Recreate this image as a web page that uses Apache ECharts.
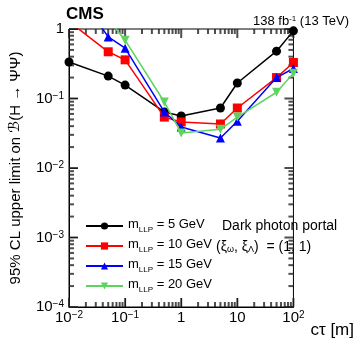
<!DOCTYPE html>
<html><head><meta charset="utf-8">
<script src="https://cdn.jsdelivr.net/npm/echarts@6/dist/echarts.min.js"></script>
<style>html,body{margin:0;padding:0;background:#fff}#c{width:357px;height:349px}</style>
</head><body><div id="c"></div>
<script>
const ctau = [0.01, 0.05, 0.1, 0.5, 1, 5, 10, 50, 100];
const m5  = [0.335, 0.21, 0.156, 0.064, 0.056, 0.073, 0.167, 0.48, 0.94];
const m10 = [1.28, 0.47, 0.36, 0.054, 0.046, 0.043, 0.073, 0.20, 0.33];
const m15 = [4.9, 0.77, 0.53, 0.064, 0.039, 0.027, 0.047, 0.20, 0.27];
const m20 = [3.0, 1.39, 0.69, 0.089, 0.032, 0.036, 0.054, 0.123, 0.23];
const seriesNames = ['m{sub|LLP} = 5 GeV', 'm{sub|LLP} = 10 GeV', 'm{sub|LLP} = 15 GeV', 'm{sub|LLP} = 20 GeV'];
const xRange = [0.01, 100];
const yRange = [1e-4, 1];

const FONT = 'Liberation Sans';
function pw(v){
  const e = Math.round(Math.log10(v));
  if (e === 0) return '{b|1}';
  if (e === 1) return '{b|10}';
  return '{b|10}{sup|' + (e < 0 ? '−' + (-e) : e) + '}';
}
const labelRich = {
  b:{fontSize:15, lineHeight:15, verticalAlign:'bottom', fontFamily:FONT, color:'#000'},
  sup:{fontSize:10, verticalAlign:'top', lineHeight:8, fontFamily:FONT, color:'#000'}
};

function minors(lo, hi){
  const out=[];
  for(let e=Math.round(Math.log10(lo)); e<Math.round(Math.log10(hi)); e++){
    for(let k=2;k<=9;k++) out.push(k*Math.pow(10,e));
  }
  return out;
}
function majors(lo, hi){
  const out=[];
  for(let e=Math.round(Math.log10(lo)); e<=Math.round(Math.log10(hi)); e++) out.push(Math.pow(10,e));
  return out;
}
const xMinor = minors(xRange[0], xRange[1]);
const yMinor = minors(yRange[0], yRange[1]);
const xMajor = majors(xRange[0], xRange[1]);
const yMajor = majors(yRange[0], yRange[1]);

function tickSeries(data, size, offset){
  return {type:'scatter', clip:false, symbol:'rect', symbolSize:size, symbolOffset:offset,
    itemStyle:{color:'#222'}, data:data};
}

const styles = [
  {color:'#000000', symbol:'circle', size:9, rot:0},
  {color:'#ff0000', symbol:'rect', size:9, rot:0},
  {color:'#0000ff', symbol:'triangle', size:9, rot:0},
  {color:'#5fd35f', symbol:'triangle', size:9, rot:180}
];
const vals = [m5, m10, m15, m20];
const lineSeries = vals.map((arr,i)=>({
  name: seriesNames[i], type:'line',
  data: ctau.map((x,j)=>[x, arr[j]]),
  symbol: styles[i].symbol, symbolSize: styles[i].size, symbolRotate: styles[i].rot,
  showSymbol:true, clip:true,
  itemStyle:{color:styles[i].color},
  lineStyle:{color:styles[i].color, width:1.5},
  z: 5 + i
}));

const T = 2;
const tickSeriesList = [
  tickSeries(xMinor.map(v=>[v, yRange[0]]), [T,5], [0,-2.5]),
  tickSeries(xMinor.map(v=>[v, yRange[1]]), [T,5], [0,2.5]),
  tickSeries(xMajor.map(v=>[v, yRange[0]]), [T,9], [0,-4.5]),
  tickSeries(xMajor.map(v=>[v, yRange[1]]), [T,9], [0,4.5]),
  tickSeries(yMinor.map(v=>[xRange[0], v]), [5,T], [2.5,0]),
  tickSeries(yMinor.map(v=>[xRange[1], v]), [5,T], [-2.5,0]),
  tickSeries(yMajor.map(v=>[xRange[0], v]), [9,T], [4.5,0]),
  tickSeries(yMajor.map(v=>[xRange[1], v]), [9,T], [-4.5,0])
];

const chart = echarts.init(document.getElementById('c'), null, {renderer:'canvas'});
chart.setOption({
  animation:false,
  backgroundColor:'#fff',
  grid:{left:68, right:9, top:29, bottom:42, show:true, borderColor:'#000', borderWidth:1, backgroundColor:'transparent'},
  title:[
    {text:'CMS', left:66, top:6, textStyle:{fontFamily:FONT, fontWeight:'bold', fontSize:17, color:'#000'}, padding:0},
    {text:'{b|138 fb}{sup|-1}{b| (13 TeV)}', right:8, top:15, padding:0,
     textStyle:{fontFamily:FONT, fontSize:13, fontWeight:'normal', color:'#000',
       rich:{b:{fontSize:13, lineHeight:13, verticalAlign:'bottom', fontFamily:FONT, color:'#000'},
             sup:{fontSize:8, verticalAlign:'top', lineHeight:7, fontFamily:FONT, color:'#000'}}}},
    {text:'Dark photon portal', left:222, top:219, padding:0,
     textStyle:{fontFamily:FONT, fontSize:14, fontWeight:'normal', color:'#000'}},
    {text:'{b|(ξ}{sub|ω}{b|, ξ}{sub|Λ}{b|)  = (1, 1)}', left:216, top:240, padding:0,
     textStyle:{fontFamily:FONT, fontSize:14, fontWeight:'normal', color:'#000',
       rich:{b:{fontSize:14, lineHeight:14, verticalAlign:'top', fontFamily:FONT, color:'#000'},
             sub:{fontSize:9, verticalAlign:'bottom', lineHeight:6, fontFamily:FONT, color:'#000'}}}}
  ],
  legend:{
    orient:'vertical', left:80, top:213, itemWidth:37, itemHeight:9, itemGap:4,
    selectedMode:false,
    formatter:function(n){ return n.replace(/^m/, '{b|m}').replace(/ = (.*)$/, '{b| = $1}'); },
    textStyle:{fontFamily:FONT, fontSize:13, color:'#000',
      rich:{b:{fontSize:13, lineHeight:16, verticalAlign:'top', fontFamily:FONT, color:'#000'},
            sub:{fontSize:8, verticalAlign:'bottom', lineHeight:5, fontFamily:FONT, color:'#000'}}},
    data: seriesNames
  },
  xAxis:{
    type:'log', min:xRange[0], max:xRange[1],
    name:'cτ [m]', nameLocation:'end', nameGap:0,
    nameTextStyle:{fontFamily:FONT, fontSize:17, color:'#000', align:'right', verticalAlign:'top', padding:[15,4,0,0]},
    axisLine:{lineStyle:{color:'#000', width:1}},
    axisTick:{show:true, inside:true, length:9, lineStyle:{color:'#000'}},
    splitLine:{show:false},
    axisLabel:{color:'#000', fontSize:15, fontFamily:FONT, margin:3, formatter:pw, rich:labelRich, showMinLabel:true, showMaxLabel:true}
  },
  yAxis:{
    type:'log', min:yRange[0], max:yRange[1],
    name:'95% CL upper limit on {it|ℬ}(H → ΨΨ)', nameLocation:'middle', nameRotate:90, nameGap:46,
    nameTextStyle:{fontFamily:FONT, fontSize:15, color:'#000', rich:{it:{fontStyle:'italic', fontSize:15, fontFamily:'DejaVu Sans', color:'#000'}}},
    axisLine:{lineStyle:{color:'#000', width:1}},
    axisTick:{show:true, inside:true, length:9, lineStyle:{color:'#000'}},
    splitLine:{show:false},
    axisLabel:{color:'#000', fontSize:15, fontFamily:FONT, margin:5, formatter:pw, rich:labelRich, showMinLabel:true, showMaxLabel:true}
  },
  series: tickSeriesList.concat(lineSeries)
});
</script></body></html>
